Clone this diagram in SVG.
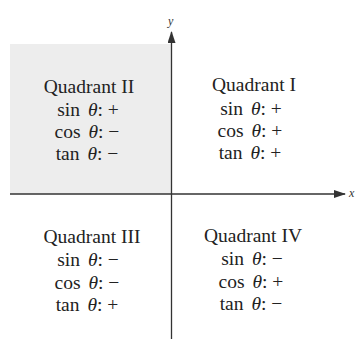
<svg xmlns="http://www.w3.org/2000/svg" width="358" height="339" viewBox="0 0 358 339">
<defs>
<style>
.t{font-family:"Liberation Serif","Times New Roman",serif;font-size:19.5px;fill:#222;text-anchor:middle}
.th{font-style:italic}
.ax{stroke:#333;stroke-width:1.3;fill:none}
.lbl{font-family:"Liberation Serif","Times New Roman",serif;font-size:12px;font-style:italic;fill:#333}
</style>
<marker id="arr" viewBox="0 0 12 8" refX="11" refY="4" markerWidth="12" markerHeight="8" markerUnits="userSpaceOnUse" orient="auto">
<path d="M0,0 L12,4 L0,8 Z" fill="#333"/>
</marker>
</defs>
<rect width="358" height="339" fill="#fff"/>
<rect id="shade" x="10" y="44" width="161.5" height="150" fill="#ededed"/>
<g id="connectors">
<line class="ax" x1="10" y1="194" x2="345" y2="194" marker-end="url(#arr)"/>
<line class="ax" x1="171.5" y1="339" x2="171.5" y2="32" marker-end="url(#arr)"/>
</g>
<text class="lbl" x="168" y="25">y</text>
<text class="lbl" x="349" y="197">x</text>
<g id="q2">
<text class="t" x="89" y="93">Quadrant II</text>
<text class="t" x="88" y="116">sin <tspan class="th" dx="3">θ</tspan>: +</text>
<text class="t" x="87" y="138">cos <tspan class="th" dx="3">θ</tspan>: −</text>
<text class="t" x="87" y="160">tan <tspan class="th" dx="3">θ</tspan>: −</text>
</g>
<g id="q1">
<text class="t" x="254" y="91">Quadrant I</text>
<text class="t" x="251" y="115">sin <tspan class="th" dx="3">θ</tspan>: +</text>
<text class="t" x="250" y="137">cos <tspan class="th" dx="3">θ</tspan>: +</text>
<text class="t" x="250" y="159">tan <tspan class="th" dx="3">θ</tspan>: +</text>
</g>
<g id="q3">
<text class="t" x="92" y="243">Quadrant III</text>
<text class="t" x="88" y="266">sin <tspan class="th" dx="3">θ</tspan>: −</text>
<text class="t" x="87" y="289">cos <tspan class="th" dx="3">θ</tspan>: −</text>
<text class="t" x="87" y="311">tan <tspan class="th" dx="3">θ</tspan>: +</text>
</g>
<g id="q4">
<text class="t" x="253" y="242">Quadrant IV</text>
<text class="t" x="252" y="265">sin <tspan class="th" dx="3">θ</tspan>: −</text>
<text class="t" x="251" y="288">cos <tspan class="th" dx="3">θ</tspan>: +</text>
<text class="t" x="251" y="310">tan <tspan class="th" dx="3">θ</tspan>: −</text>
</g>
</svg>
